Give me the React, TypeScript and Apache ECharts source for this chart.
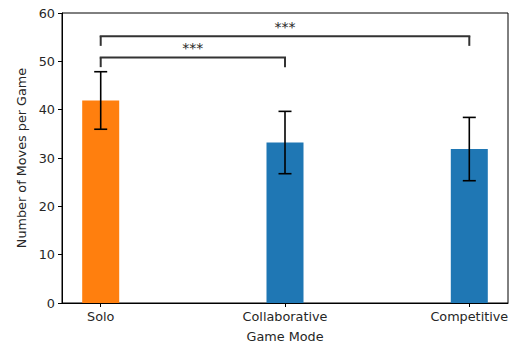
import React, { useEffect, useRef } from "react";
import * as echarts from "echarts";

// Mean number of moves per game for each mode, with error half-widths
const categories = ["Solo", "Collaborative", "Competitive"];
const means = [41.9, 33.2, 31.85];
const errors = [5.95, 6.45, 6.55];
const barColors = ["#ff7f0e", "#1f77b4", "#1f77b4"];

// Significance brackets: [from index, to index, leg base, bracket top]
const brackets = [
  [0, 1, 48.8, 50.8],
  [0, 2, 53.2, 55.2],
];
const bracketLabels = ["***", "***"];

const yTicks = [0, 10, 20, 30, 40, 50, 60];

const FONT = "DejaVu Sans";
const FS = 12.8;
const TXT = "#262626";

export default function App() {
  const ref = useRef<HTMLDivElement>(null);

  useEffect(() => {
    if (!ref.current) return;
    const chart = echarts.init(ref.current, null, { renderer: "svg" });

    const option: any = {
      animation: false,
      backgroundColor: "#ffffff",
      grid: {
        left: 62,
        right: 5,
        top: 13,
        bottom: 42,
        show: true,
        borderColor: "#000",
        borderWidth: 1,
        outerBoundsMode: "none",
        containLabel: false,
      },
      xAxis: {
        type: "value",
        min: -0.21,
        max: 2.21,
        name: "Game Mode",
        nameLocation: "middle",
        nameGap: 27,
        nameTextStyle: { fontFamily: FONT, fontSize: FS, color: TXT },
        splitLine: { show: false },
        axisLine: { show: true, onZero: false, lineStyle: { color: "#000", width: 1 } },
        axisTick: {
          show: true,
          customValues: [0, 1, 2],
          length: 4,
          lineStyle: { color: "#000", width: 1 },
        },
        axisLabel: {
          customValues: [0, 1, 2],
          margin: 7,
          fontFamily: FONT,
          fontSize: FS,
          color: TXT,
          formatter: (v: number) => categories[Math.round(v)] ?? "",
        },
      },
      yAxis: {
        type: "value",
        min: yTicks[0],
        max: yTicks[yTicks.length - 1],
        interval: 10,
        name: "Number of Moves per Game",
        nameLocation: "middle",
        nameRotate: 90,
        nameGap: 31,
        nameTextStyle: { fontFamily: FONT, fontSize: FS, color: TXT },
        splitLine: { show: false },
        axisLine: { show: true, onZero: false, lineStyle: { color: "#000", width: 1 } },
        axisTick: { show: true, length: 4, lineStyle: { color: "#000", width: 1 } },
        axisLabel: {
          margin: 7,
          fontFamily: FONT,
          fontSize: FS,
          color: TXT,
        },
      },
      series: [
        {
          type: "bar",
          barWidth: 37,
          data: means.map((m, i) => ({
            value: [i, m],
            itemStyle: { color: barColors[i] },
          })),
        },
        {
          type: "custom",
          clip: false,
          data: means.map((m, i) => [i, m - errors[i], m + errors[i]]),
          renderItem: (params: any, api: any) => {
            const x = api.value(0);
            const lo = api.coord([x, api.value(1)]);
            const hi = api.coord([x, api.value(2)]);
            const cap = 6.5;
            const style = { stroke: "#000", lineWidth: 1.6 };
            return {
              type: "group",
              children: [
                { type: "line", shape: { x1: lo[0], y1: lo[1], x2: hi[0], y2: hi[1] }, style },
                { type: "line", shape: { x1: hi[0] - cap, y1: hi[1], x2: hi[0] + cap, y2: hi[1] }, style },
                { type: "line", shape: { x1: lo[0] - cap, y1: lo[1], x2: lo[0] + cap, y2: lo[1] }, style },
              ],
            };
          },
          z: 5,
        },
        {
          type: "custom",
          clip: false,
          data: brackets,
          renderItem: (params: any, api: any) => {
            const a = api.value(0);
            const b = api.value(1);
            const base = api.value(2);
            const top = api.value(3);
            const p1 = api.coord([a, base]);
            const p2 = api.coord([a, top]);
            const p3 = api.coord([b, top]);
            const p4 = api.coord([b, base]);
            const style = { stroke: "#333", lineWidth: 2 };
            return {
              type: "group",
              children: [
                { type: "line", shape: { x1: p1[0], y1: p1[1], x2: p2[0], y2: p2[1] }, style },
                { type: "line", shape: { x1: p2[0] - 1, y1: p2[1], x2: p3[0] + 1, y2: p3[1] }, style },
                { type: "line", shape: { x1: p3[0], y1: p3[1], x2: p4[0], y2: p4[1] }, style },
                {
                  type: "text",
                  x: (p2[0] + p3[0]) / 2,
                  y: p2[1] - 2,
                  style: {
                    text: bracketLabels[params.dataIndex],
                    fontFamily: FONT,
                    fontSize: 14,
                    fill: TXT,
                    align: "center",
                    verticalAlign: "bottom",
                  },
                },
              ],
            };
          },
          z: 6,
        },
      ],
    };

    chart.setOption(option);
    return () => chart.dispose();
  }, []);

  return (
    <div
      ref={ref}
      style={{ position: "fixed", left: 0, top: 0, width: 513, height: 345 }}
    />
  );
}
